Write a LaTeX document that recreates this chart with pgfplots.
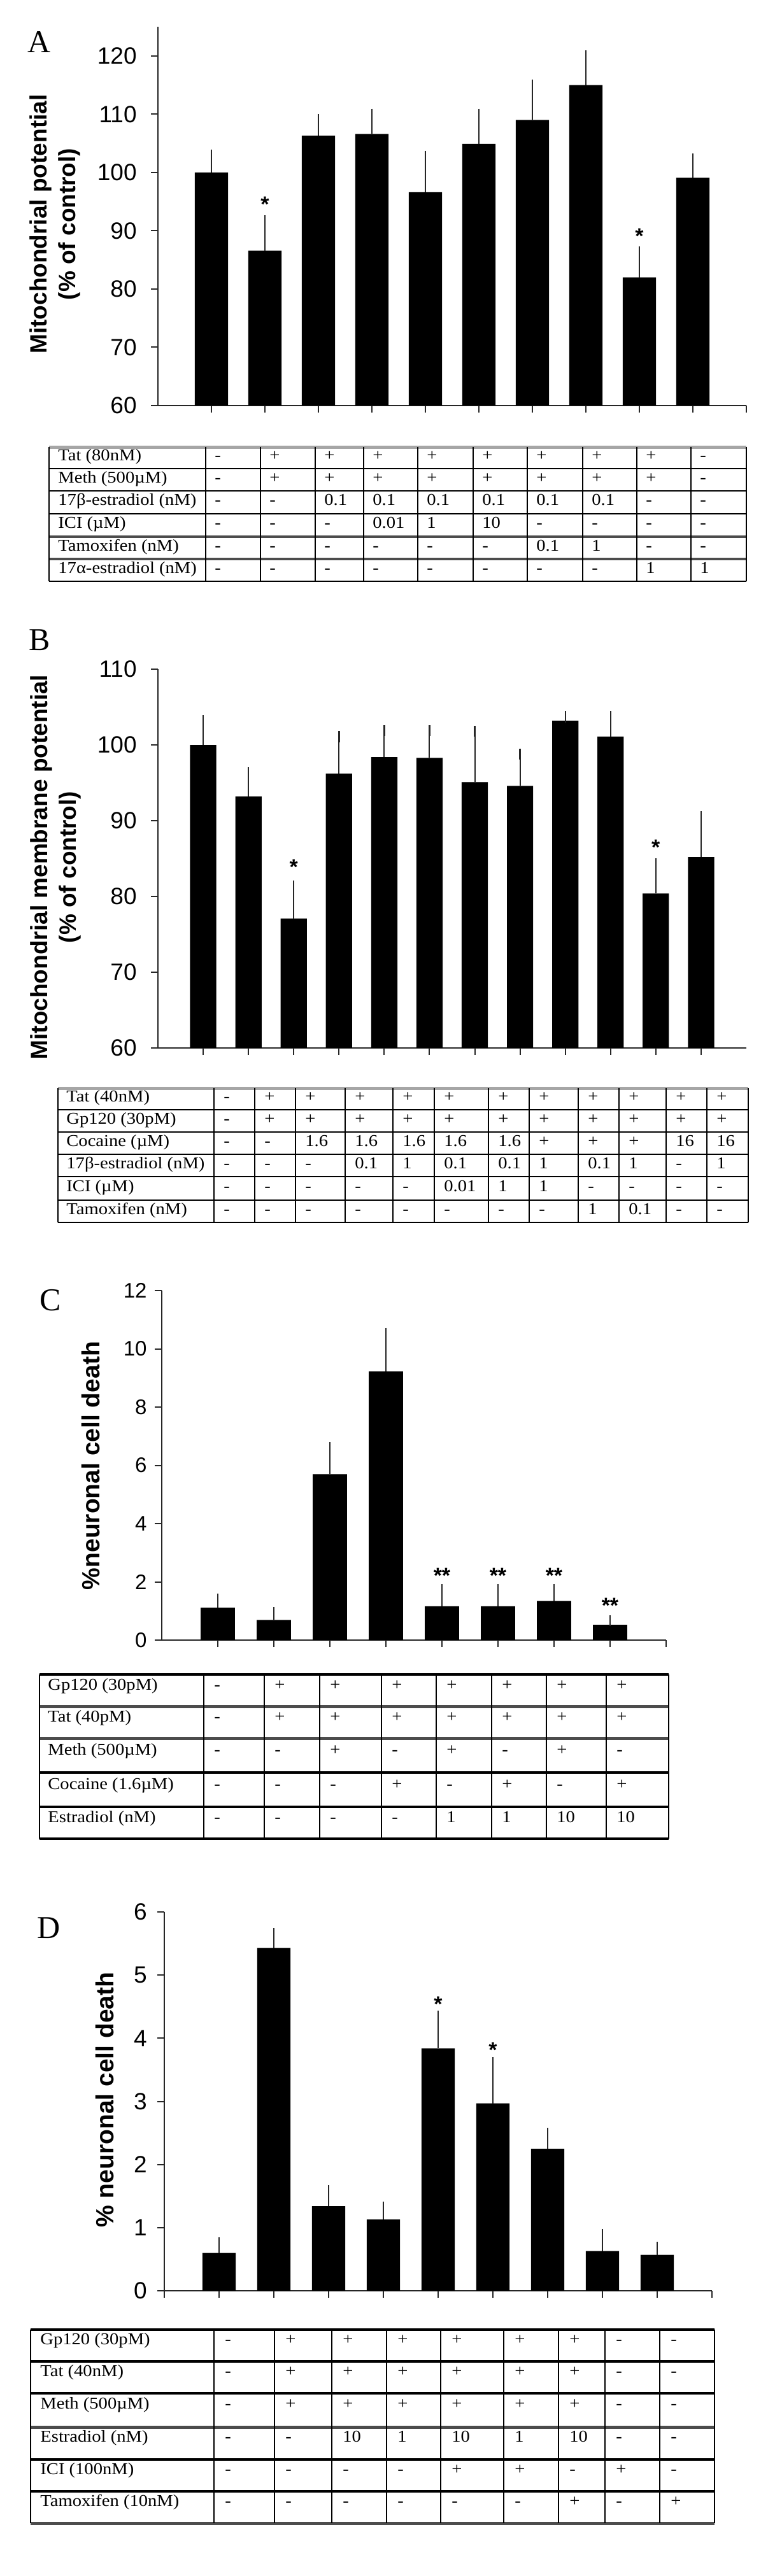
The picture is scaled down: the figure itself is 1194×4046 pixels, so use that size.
\documentclass[border=0pt]{standalone}
\usepackage{fontspec}
\setmainfont{Liberation Serif}
\newfontfamily\arial{Liberation Sans}
\newfontfamily\tabserif[FakeStretch=1.1]{Liberation Serif}
\usepackage{pgfplots}
\pgfplotsset{compat=1.18}
\usepackage{pgfplotstable}

\pgfplotstableread{
x y e
1 100.0 3.0
2 86.6 5.1
3 106.3 2.8
4 106.6 3.4
5 96.6 6.2
6 104.9 5.1
7 109.0 6.0
8 115.0 5.0
9 82.0 4.4
10 99.1 3.2
}\dataA
\pgfplotstableread{
x y e
1 100.0 3.2
2 93.2 3.1
3 77.1 4.3
4 96.2 4.9
5 98.4 3.5
6 98.3 3.6
7 95.1 6.7
8 94.6 4.2
9 103.2 0.5
10 101.1 2.6
11 80.4 3.9
12 85.2 5.3
}\dataB
\pgfplotstableread{
x y e
1 1.11 0.30
2 0.69 0.25
3 5.70 0.90
4 9.22 1.31
5 1.16 0.58
6 1.16 0.58
7 1.34 0.40
8 0.53 0.13
}\dataC
\pgfplotstableread{
x y e
1 0.60 0.16
2 5.43 0.23
3 1.34 0.25
4 1.13 0.20
5 3.84 0.51
6 2.97 0.64
7 2.25 0.25
8 0.63 0.26
9 0.57 0.12
}\dataD

\newcommand\tabfont{\tabserif\fontsize{13}{15}\selectfont}
\tikzset{cell/.style={anchor=west, inner sep=0pt, font=\tabfont, text height=0.68em, text depth=0.2em},
  star/.style={font=\arial\bfseries\fontsize{17}{17}\selectfont, inner sep=0pt, yshift=-3.5pt},
  letter/.style={font=\fontsize{25}{25}\selectfont, inner sep=0pt}}
\newcommand\trow[6]{% #1 cols array, #2 offset, #3 y, #4 label x, #5 label, #6 entries
  \node[cell] at (#4,#3) {#5};
  \foreach \e [count=\i from 0] in {#6} {\pgfmathsetmacro\xx{#1[\i]+#2}\node[cell] at (\xx,#3) {\e};}}

\pgfplotsset{panel/.style={
  scale only axis, anchor=south west, ybar,
  axis x line*=bottom, axis y line*=left,
  axis line style={line width=1pt, black!85},
  every tick/.style={line width=1pt, black!85},
  tick align=outside, major tick length=5.5pt,
  xticklabels={}, enlargelimits=false,
  /pgf/number format/assume math mode=true,
  yticklabel style={font=\arial\fontsize{18.5}{19}\selectfont, inner sep=0pt, anchor=east},
},
bars/.style={fill=black, draw=none,
  error bars/y dir=plus, error bars/y explicit,
  error bars/error bar style={draw=black!85, line width=1pt},
  error bars/error mark options={draw=black!85, line width=1.2pt, mark size=4.3pt}}}

\begin{document}
\begin{tikzpicture}[x=0.5pt,y=-0.5pt]
\path[use as bounding box] (0,0) rectangle (1194,4046);

% ---------------- Panel A
\node[letter] at (62,66) {A};
\node[rotate=90, align=center, font=\arial\bfseries\fontsize{18.5}{22.5}\selectfont] at (86,352) {Mitochondrial potential\\(\% of control)};
\begin{axis}[panel, at={(124pt,-318.5pt)}, width=462pt, height=297.5pt,
  xmin=0, xmax=11, ymin=60, ymax=125, ytick={60,70,...,120}, xtick={1,...,11},
  bar width=0.62, yticklabel style={xshift=-11pt}]
\addplot[bars] table[x=x,y=y,y error=e]{\dataA};
\node[star] at (axis cs:2,95.3) {*};
\node[star] at (axis cs:9,89.8) {*};
\end{axis}
\draw[gray!70, line width=2.5pt] (77,702) -- (1172,702);
\foreach \yy in {736,771,807,913} \draw[line width=1.3pt] (77,\yy) -- (1172,\yy);
\foreach \yy in {843,878} \draw[gray!60!black, line width=2pt] (77,\yy) -- (1172,\yy);
\foreach \xx in {77,323,409,495,571,656,743,828,915,1000,1085,1172} \draw[line width=1.2pt] (\xx,702) -- (\xx,913);
\def\colsA{{323,409,495,571,656,743,828,915,1000,1085}}
\trow{\colsA}{14}{719}{91}{Tat (80nM)}{-,+,+,+,+,+,+,+,+,-}
\trow{\colsA}{14}{753.5}{91}{Meth (500µM)}{-,+,+,+,+,+,+,+,+,-}
\trow{\colsA}{14}{789}{91}{17β-estradiol (nM)}{-,-,0.1,0.1,0.1,0.1,0.1,0.1,-,-}
\trow{\colsA}{14}{825}{91}{ICI (µM)}{-,-,-,0.01,1,10,-,-,-,-}
\trow{\colsA}{14}{860.5}{91}{Tamoxifen (nM)}{-,-,-,-,-,-,0.1,1,-,-}
\trow{\colsA}{14}{895.5}{91}{17α-estradiol (nM)}{-,-,-,-,-,-,-,-,1,1}

% ---------------- Panel B
\node[letter] at (62,1005) {B};
\node[rotate=90, align=center, font=\arial\bfseries\fontsize{18.5}{22.5}\selectfont] at (87,1362) {Mitochondrial membrane potential\\(\% of control)};
\begin{axis}[panel, at={(124pt,-823pt)}, width=462pt, height=297.5pt,
  xmin=0, xmax=13, ymin=60, ymax=110, ytick={60,70,...,110}, xtick={1,...,12},
  bar width=0.58, yticklabel style={xshift=-11pt}]
\addplot[bars] table[x=x,y=y,y error=e]{\dataB};
\node[star] at (axis cs:3,84.5) {*};
\node[star] at (axis cs:11,87.1) {*};
\end{axis}
\draw[gray!70, line width=2.5pt] (91,1709) -- (1175,1709);
\foreach \yy in {1743,1778,1813,1848,1885,1920} \draw[line width=1.3pt] (91,\yy) -- (1175,\yy);
\foreach \xx in {91,336,400,464,542,617,682,767,831,908,972,1046,1110,1175} \draw[line width=1.2pt] (\xx,1709) -- (\xx,1920);
\def\colsB{{336,400,464,542,617,682,767,831,908,972,1046,1110}}
\trow{\colsB}{15}{1726}{104}{Tat (40nM)}{-,+,+,+,+,+,+,+,+,+,+,+}
\trow{\colsB}{15}{1760.5}{104}{Gp120 (30pM)}{-,+,+,+,+,+,+,+,+,+,+,+}
\trow{\colsB}{15}{1795.5}{104}{Cocaine (µM)}{-,-,1.6,1.6,1.6,1.6,1.6,+,+,+,16,16}
\trow{\colsB}{15}{1830.5}{104}{17β-estradiol (nM)}{-,-,-,0.1,1,0.1,0.1,1,0.1,1,-,1}
\trow{\colsB}{15}{1866.5}{104}{ICI (µM)}{-,-,-,-,-,0.01,1,1,-,-,-,-}
\trow{\colsB}{15}{1902.5}{104}{Tamoxifen (nM)}{-,-,-,-,-,-,-,-,1,0.1,-,-}

% ---------------- Panel C
\node[letter] at (79,2042) {C};
\node[rotate=90, font=\arial\bfseries\fontsize{19.5}{20}\selectfont] at (143,2302) {\%neuronal cell death};
\begin{axis}[panel, at={(127pt,-1288pt)}, width=396pt, height=274.5pt,
  xmin=0, xmax=9, ymin=0, ymax=12, ytick={0,2,...,12}, xtick={1,...,9},
  bar width=0.61, yticklabel style={font=\arial\fontsize{16.5}{17}\selectfont, xshift=-6pt}]
\addplot[bars] table[x=x,y=y,y error=e]{\dataC};
\node[star] at (axis cs:5,2.37) {**};
\node[star] at (axis cs:6,2.37) {**};
\node[star] at (axis cs:7,2.37) {**};
\node[star] at (axis cs:8,1.33) {**};
\end{axis}
\draw[line width=2pt] (62,2630) -- (1050,2630);
\foreach \yy in {2680,2730} \draw[gray!60!black, line width=2.5pt] (62,\yy) -- (1050,\yy);
\foreach \yy in {2784,2838,2888} \draw[line width=1.6pt] (62,\yy) -- (1050,\yy);
\foreach \xx in {62,320,415,502,599,685,772,858,952,1050} \draw[line width=1.2pt] (\xx,2630) -- (\xx,2888);
\def\colsC{{320,415,502,599,685,772,858,952}}
\trow{\colsC}{16}{2650}{75}{Gp120 (30pM)}{-,+,+,+,+,+,+,+}
\trow{\colsC}{16}{2700}{75}{Tat (40pM)}{-,+,+,+,+,+,+,+}
\trow{\colsC}{16}{2752}{75}{Meth (500µM)}{-,-,+,-,+,-,+,-}
\trow{\colsC}{16}{2806}{75}{Cocaine (1.6µM)}{-,-,-,+,-,+,-,+}
\trow{\colsC}{16}{2858}{75}{Estradiol (nM)}{-,-,-,-,1,1,10,10}

% ---------------- Panel D
\node[letter] at (77,3028) {D};
\node[rotate=90, font=\arial\bfseries\fontsize{19.5}{20}\selectfont] at (165,3298) {\% neuronal cell death};
\begin{axis}[panel, at={(129pt,-1799pt)}, width=430pt, height=297.5pt,
  xmin=0, xmax=10, ymin=0, ymax=6, ytick={0,1,...,6}, xtick={0,1,...,10},
  bar width=0.61, yticklabel style={xshift=-8pt}]
\addplot[bars] table[x=x,y=y,y error=e]{\dataD};
\node[star] at (axis cs:5,4.61) {*};
\node[star] at (axis cs:6,3.88) {*};
\end{axis}
\draw[line width=1.6pt] (48,3659) -- (1122,3659);
\foreach \yy in {3709,3759,3863,3913} \draw[line width=1.6pt] (48,\yy) -- (1122,\yy);
\foreach \yy in {3812,3963} \draw[gray!60!black, line width=2.5pt] (48,\yy) -- (1122,\yy);
\foreach \xx in {48,336,431,521,607,692,791,877,950,1036,1122} \draw[line width=1.2pt] (\xx,3659) -- (\xx,3963);
\def\colsD{{336,431,521,607,692,791,877,950,1036}}
\trow{\colsD}{17}{3678}{63}{Gp120 (30pM)}{-,+,+,+,+,+,+,-,-}
\trow{\colsD}{17}{3728}{63}{Tat (40nM)}{-,+,+,+,+,+,+,-,-}
\trow{\colsD}{17}{3779}{63}{Meth (500µM)}{-,+,+,+,+,+,+,-,-}
\trow{\colsD}{17}{3831}{63}{Estradiol (nM)}{-,-,10,1,10,1,10,-,-}
\trow{\colsD}{17}{3882}{63}{ICI (100nM)}{-,-,-,-,+,+,-,+,-}
\trow{\colsD}{17}{3932}{63}{Tamoxifen (10nM)}{-,-,-,-,-,-,+,-,+}
\end{tikzpicture}
\end{document}
